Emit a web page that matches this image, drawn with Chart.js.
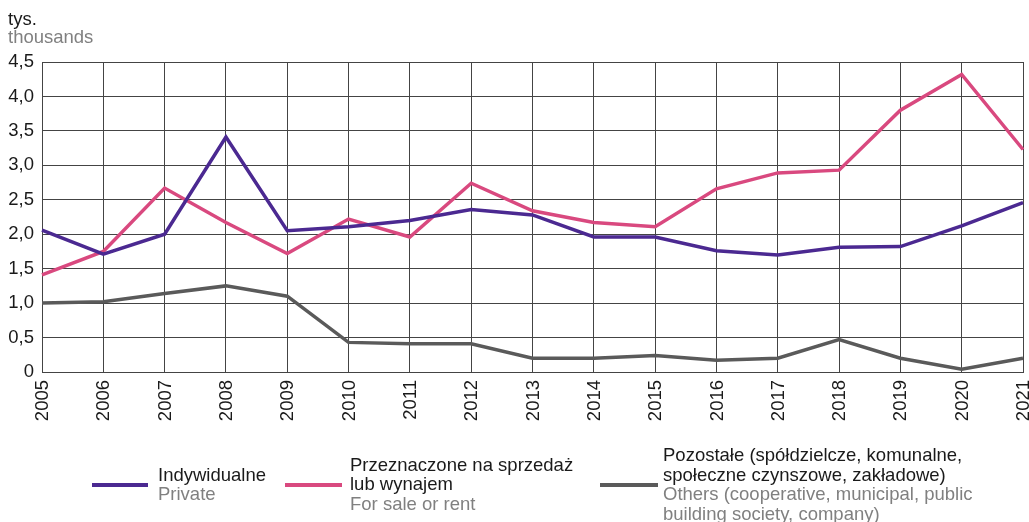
<!DOCTYPE html>
<html>
<head>
<meta charset="utf-8">
<script src="https://cdn.jsdelivr.net/npm/chart.js@4"></script>
<style>
    html, body { margin: 0; padding: 0; background: #fff; overflow: hidden; }
    body { width: 1029px; height: 522px; position: relative; font-family: 'Liberation Sans', Arial, sans-serif; }
    #wrap { position: absolute; left: 0; top: 0; width: 1029px; height: 522px; }
    .unit { position: absolute; left: 8px; top: 10px; font-size: 18.5px; line-height: 18px; }
    .pl { color: #1a1a1a; }
    .en { color: #808080; }
    .legend-item { position: absolute; top: 439px; height: 90px; display: flex; align-items: center; font-size: 18.5px; line-height: 19.5px; white-space: nowrap; }
    .swatch { display: inline-block; height: 3.5px; margin-top: 2px; }
</style>
</head>
<body>
<div id="wrap"><canvas id="housingChart"></canvas></div>
<div class="unit"><div class="pl">tys.</div><div class="en">thousands</div></div>
<div id="legend"></div>
<script>
// Data (thousands of dwellings)
const years = ['2005', '2006', '2007', '2008', '2009', '2010', '2011', '2012', '2013',
    '2014', '2015', '2016', '2017', '2018', '2019', '2020', '2021'];
const privateValues = [2.06, 1.71, 2.00, 3.41, 2.05, 2.11, 2.20, 2.36, 2.28,
    1.96, 1.96, 1.76, 1.70, 1.81, 1.82, 2.12, 2.46];
const saleRentValues = [1.41, 1.75, 2.67, 2.17, 1.72, 2.22, 1.96, 2.74, 2.34,
    2.17, 2.11, 2.66, 2.89, 2.93, 3.80, 4.32, 3.23];
const otherValues = [1.00, 1.02, 1.14, 1.25, 1.10, 0.43, 0.41, 0.41, 0.20,
    0.20, 0.24, 0.17, 0.20, 0.47, 0.20, 0.04, 0.20];
const yTickLabels = ['0', '0,5', '1,0', '1,5', '2,0', '2,5', '3,0', '3,5', '4,0', '4,5'];

const series = [
    { pl: ['Indywidualne'], en: ['Private'], data: privateValues, color: '#4b2991', left: 92, width: 56, gap: 10 },
    { pl: ['Przeznaczone na sprzedaż', 'lub wynajem'], en: ['For sale or rent'], data: saleRentValues, color: '#d9497f', left: 285, width: 57, gap: 8 },
    { pl: ['Pozostałe (spółdzielcze, komunalne,', 'społeczne czynszowe, zakładowe)'],
      en: ['Others (cooperative, municipal, public', 'building society, company)'], data: otherValues, color: '#5a5a5a', left: 600, width: 58, gap: 5 }
];

// HTML legend
const legend = document.getElementById('legend');
series.forEach(s => {
    const item = document.createElement('div');
    item.className = 'legend-item';
    item.style.left = s.left + 'px';
    const sw = document.createElement('span');
    sw.className = 'swatch';
    sw.style.width = s.width + 'px';
    sw.style.background = s.color;
    sw.style.marginRight = s.gap + 'px';
    const txt = document.createElement('div');
    txt.innerHTML = s.pl.map(t => '<div class="pl">' + t + '</div>').join('') +
        s.en.map(t => '<div class="en">' + t + '</div>').join('');
    item.appendChild(sw);
    item.appendChild(txt);
    legend.appendChild(item);
});

const gridColor = '#444';
const tickFont = { family: "'Liberation Sans', Arial, sans-serif", size: 18.5 };

const ctx = document.getElementById('housingChart').getContext('2d');
new Chart(ctx, {
    type: 'line',
    data: {
        labels: years,
        datasets: series.map(s => ({
            label: s.pl.join(' '),
            data: s.data,
            borderColor: s.color,
            backgroundColor: s.color,
            borderWidth: 3.5,
            pointRadius: 0,
            tension: 0,
            borderJoinStyle: 'miter'
        }))
    },
    options: {
        responsive: true,
        maintainAspectRatio: false,
        animation: false,
        layout: { padding: { top: 62, right: 6, left: 0, bottom: 0 } },
        plugins: {
            legend: { display: false },
            tooltip: { enabled: false }
        },
        scales: {
            x: {
                offset: false,
                grid: { color: gridColor, lineWidth: 1, drawTicks: false },
                border: { color: gridColor, width: 1 },
                ticks: {
                    color: '#1a1a1a',
                    font: tickFont,
                    minRotation: 90,
                    maxRotation: 90,
                    padding: 8,
                    labelOffset: 1,
                    autoSkip: false
                },
                afterFit: scale => {
                    scale.height = 150;
                    scale.paddingLeft = 0;
                    scale.paddingRight = 0;
                }
            },
            y: {
                min: 0,
                max: 4.5,
                grid: { color: gridColor, lineWidth: 1, drawTicks: false },
                border: { color: gridColor, width: 1 },
                ticks: {
                    stepSize: 0.5,
                    color: '#1a1a1a',
                    font: tickFont,
                    padding: 8,
                    callback: (value, index) => yTickLabels[index]
                },
                afterFit: scale => { scale.width = 42; }
            }
        }
    }
});
</script>
</body>
</html>
